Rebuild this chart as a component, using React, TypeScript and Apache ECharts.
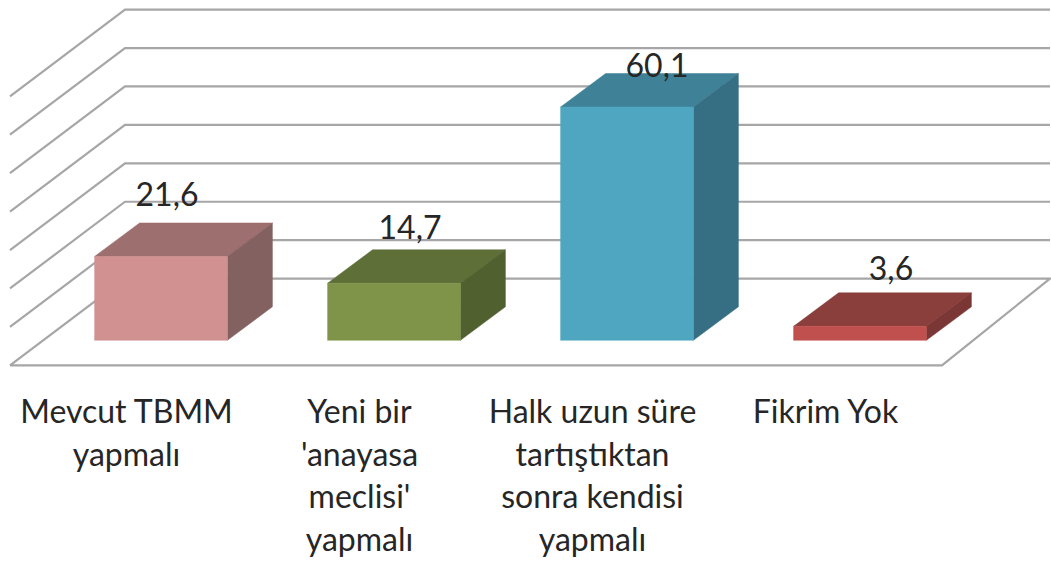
import React, { useEffect, useRef } from "react";
import * as echarts from "echarts";

const categories = [
  "Mevcut TBMM\nyapmalı",
  "Yeni bir\n'anayasa\nmeclisi'\nyapmalı",
  "Halk uzun süre\ntartıştıktan\nsonra kendisi\nyapmalı",
  "Fikrim Yok",
];
const values = [21.6, 14.7, 60.1, 3.6];
const valueLabels = ["21,6", "14,7", "60,1", "3,6"];
const gridValues = [0, 10, 20, 30, 40, 50, 60, 70];
const frontColors = ["#d19191", "#7f9448", "#4fa6c0", "#c0504d"];
const topColors = ["#9e6f6f", "#5f6f38", "#3f8298", "#8a3f3c"];
const sideColors = ["#836161", "#50602f", "#366f84", "#7a3735"];
const labelNudge = [[6, -63], [16, -57], [30, -43], [31, -59]];

const WALL_DX = 115;
const WALL_DY = 86.7;
const GAP_DX = 34.5;
const GAP_DY = 25;
const DEPTH_DX = 45;
const DEPTH_DY = 33.5;
const BAR_SCALE = 1.01;
const LINE = "#a6a6a8";
const FONT = "Lato, Carlito, sans-serif";

export default function App() {
  const ref = useRef<HTMLDivElement>(null);
  useEffect(() => {
    const chart = echarts.init(ref.current!, null, { renderer: "svg" });
    chart.setOption({
      animation: false,
      backgroundColor: "#ffffff",
      grid: { left: 10, width: 932, top: 96.3, height: 269 },
      xAxis: {
        type: "category",
        data: categories,
        axisLine: { show: false },
        axisTick: { show: false },
        axisLabel: {
          interval: 0,
          margin: 24,
          fontFamily: FONT,
          fontSize: 32,
          lineHeight: 42.5,
          color: "#262626",
        },
      },
      yAxis: { type: "value", min: 0, max: 70, interval: 10, show: false },
      series: [
        {
          type: "custom",
          silent: true,
          clip: false,
          z: 1,
          data: gridValues.map((v) => [0, v]),
          encode: { x: 0, y: 1 },
          renderItem: (params: any, api: any) => {
            const sys = params.coordSys;
            const v = api.value(1);
            const y = api.coord([0, v])[1];
            const x0 = sys.x;
            const x1 = sys.x + sys.width;
            const pts = [
              [x0, y],
              [x0 + WALL_DX, y - WALL_DY],
              [x1 + WALL_DX - 7, y - WALL_DY],
            ];
            if (v === 0) pts.push([x1, y], [x0, y]);
            return {
              type: "polyline",
              shape: { points: pts },
              style: { stroke: LINE, lineWidth: 2.2, fill: "none" },
            };
          },
        },
        {
          type: "custom",
          silent: true,
          clip: false,
          z: 2,
          data: categories.map((_, i) => [i, values[i]]),
          encode: { x: 0, y: 1 },
          renderItem: (params: any, api: any) => {
            const i = params.dataIndex;
            const cx = api.coord([i, 0])[0] + GAP_DX;
            const w = api.size([1, 0])[0] * 0.57;
            const yBase = api.coord([i, 0])[1] - GAP_DY;
            const yTop = api.coord([i, api.value(1) * BAR_SCALE])[1] - GAP_DY;
            const l = cx - w / 2;
            const r = cx + w / 2;
            const [dx, dy] = [DEPTH_DX, DEPTH_DY];
            const poly = (points: number[][], fill: string) => ({
              type: "polygon",
              shape: { points },
              style: { fill, stroke: fill, lineWidth: 0.5 },
            });
            return {
              type: "group",
              children: [
                poly([[l, yTop], [l + dx, yTop - dy], [r + dx, yTop - dy], [r, yTop]], topColors[i]),
                poly([[r, yTop], [r + dx, yTop - dy], [r + dx, yBase - dy], [r, yBase]], sideColors[i]),
                poly([[l, yTop], [r, yTop], [r, yBase], [l, yBase]], frontColors[i]),
                {
                  type: "text",
                  x: cx + labelNudge[i][0],
                  y: yTop + labelNudge[i][1],
                  style: {
                    text: valueLabels[i],
                    fontFamily: FONT,
                    fontSize: 32,
                    fill: "#262626",
                    textAlign: "center",
                    textVerticalAlign: "middle",
                  },
                },
              ],
            };
          },
        },
      ],
    });
    return () => chart.dispose();
  }, []);
  return (
    <div
      ref={ref}
      style={{ position: "fixed", left: 0, top: 0, width: 1051, height: 563, background: "#fff" }}
    />
  );
}
